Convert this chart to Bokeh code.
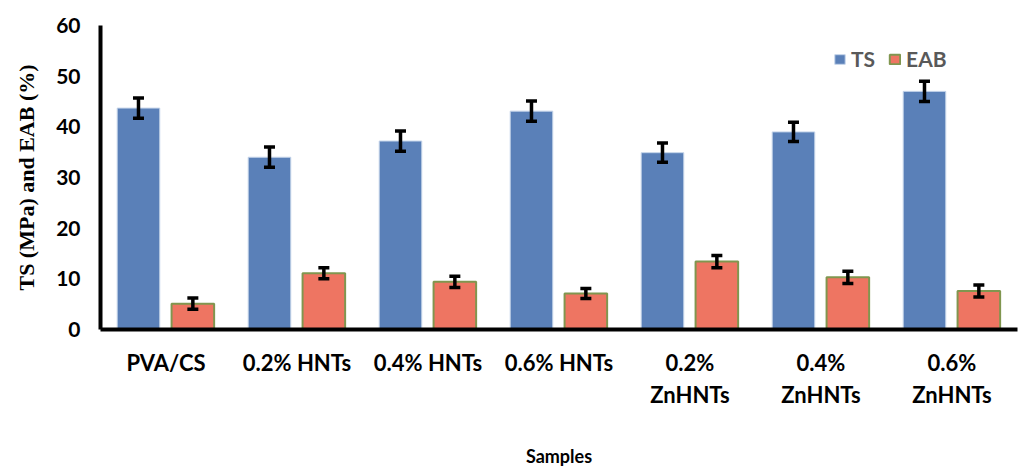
from bokeh.plotting import figure
from bokeh.models import (ColumnDataSource, FixedTicker, Range1d, Whisker, TeeHead,
                          Legend, LegendItem)
from bokeh.embed import file_html
from bokeh.resources import INLINE

categories = ["PVA/CS", "0.2% HNTs", "0.4% HNTs", "0.6% HNTs",
              "0.2%\nZnHNTs", "0.4%\nZnHNTs", "0.6%\nZnHNTs"]
ts = [43.7, 34.0, 37.2, 43.1, 34.9, 39.0, 47.0]
ts_err = [2.0, 2.0, 2.0, 2.0, 1.9, 1.9, 2.0]
eab = [5.1, 11.1, 9.4, 7.1, 13.4, 10.3, 7.6]
eab_err = [1.1, 1.1, 1.1, 1.0, 1.2, 1.2, 1.2]

idx = list(range(len(categories)))
src = ColumnDataSource(dict(
    x_ts=[i + 0.29 for i in idx],
    x_eab=[i + 0.705 for i in idx],
    ts=ts, eab=eab,
    ts_up=[v + e for v, e in zip(ts, ts_err)],
    ts_lo=[v - e for v, e in zip(ts, ts_err)],
    eab_up=[v + e for v, e in zip(eab, eab_err)],
    eab_lo=[v - e for v, e in zip(eab, eab_err)],
))

p = figure(width=1020, height=469, x_range=Range1d(0, 7), y_range=Range1d(0, 60),
           output_backend="svg", toolbar_location=None,
           min_border_left=100, min_border_right=3, min_border_top=25, min_border_bottom=139)
p.outline_line_color = None
p.xgrid.visible = False
p.ygrid.visible = False
p.background_fill_color = "white"

r_ts = p.vbar(x="x_ts", top="ts", width=0.325, source=src,
              fill_color="#5A80B8", line_color="#C6D5EA", line_width=1)
r_eab = p.vbar(x="x_eab", top="eab", width=0.325, source=src,
               fill_color="#EE7562", line_color="#80964F", line_width=2)

for b, up, lo in [("x_ts", "ts_up", "ts_lo"), ("x_eab", "eab_up", "eab_lo")]:
    w = Whisker(source=src, base=b, upper=up, lower=lo, dimension="height",
                line_color="black", line_width=3.5, level="overlay",
                upper_head=TeeHead(size=11, line_width=3.5, line_color="black"),
                lower_head=TeeHead(size=11, line_width=3.5, line_color="black"))
    p.add_layout(w)

# axes
p.xaxis.ticker = FixedTicker(ticks=[i + 0.5 for i in idx])
p.xaxis.major_label_overrides = {i + 0.5: c for i, c in zip(idx, categories)}
p.yaxis.ticker = FixedTicker(ticks=[0, 10, 20, 30, 40, 50, 60])
for ax in (p.xaxis, p.yaxis):
    ax.axis_line_width = 4
    ax.axis_line_color = "black"
    ax.major_tick_line_color = None
    ax.minor_tick_line_color = None
    ax.major_tick_out = 0
    ax.major_tick_in = 0
    ax.major_label_text_font = "Lato"
    ax.major_label_text_font_style = "bold"
    ax.major_label_text_color = "black"

p.xaxis.major_label_text_font_size = "22px"
p.xaxis.major_label_standoff = 19
p.yaxis.major_label_text_font_size = "21px"
p.yaxis.major_label_standoff = 20

p.xaxis.axis_label = "Samples"
p.xaxis.axis_label_text_font = "Lato"
p.xaxis.axis_label_text_font_style = "bold"
p.xaxis.axis_label_text_font_size = "18px"
p.xaxis.axis_label_text_color = "black"
p.xaxis.axis_label_standoff = 34

p.yaxis.axis_label = "TS (MPa) and EAB (%)"
p.yaxis.axis_label_text_font = "Liberation Serif"
p.yaxis.axis_label_text_font_style = "bold"
p.yaxis.axis_label_text_font_size = "22px"
p.yaxis.axis_label_text_color = "black"
p.yaxis.axis_label_standoff = 14

legend = Legend(items=[LegendItem(label="TS", renderers=[r_ts]),
                       LegendItem(label="EAB", renderers=[r_eab])],
                orientation="horizontal", location=(733, 258),
                border_line_color=None, background_fill_alpha=0,
                padding=0, margin=0, spacing=13, label_standoff=5,
                glyph_width=13, glyph_height=12,
                label_text_font="Lato", label_text_font_style="bold",
                label_text_font_size="21px", label_text_color="#595959")
p.add_layout(legend)

open("out.html", "w").write(file_html(p, INLINE))
